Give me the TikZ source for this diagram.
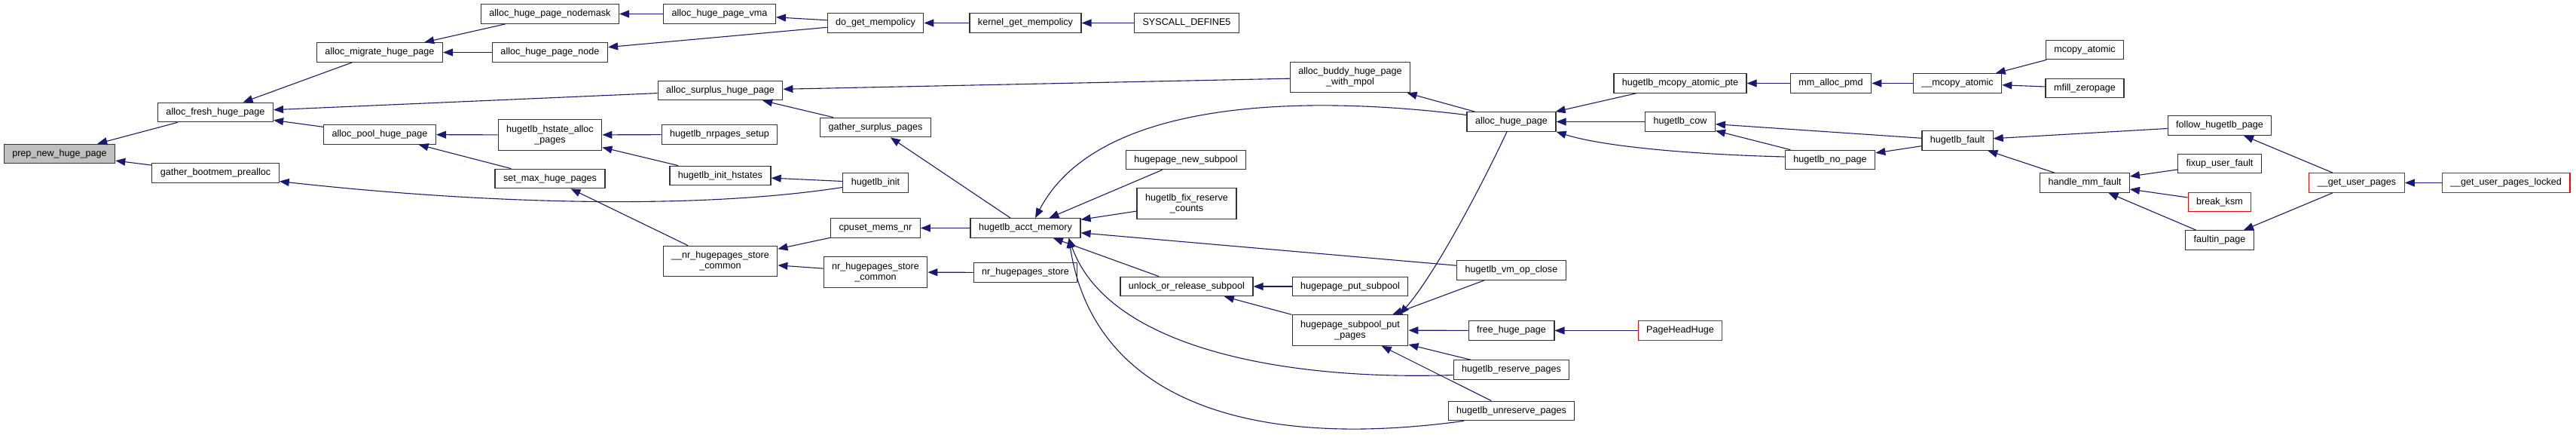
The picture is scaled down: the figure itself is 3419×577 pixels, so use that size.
\documentclass[tikz,border=0pt]{standalone}
\usepackage{fontspec}
\setmainfont{Liberation Sans}
\usepackage{xcolor}
\usetikzlibrary{arrows.meta}
\definecolor{calledge}{RGB}{25,25,112}
\definecolor{rootfill}{RGB}{191,191,191}

\begin{document}
\begin{tikzpicture}[x=1pt, y=-1pt,
  every node/.style={font=\fontsize{12.6}{14.3}\selectfont},
  fn/.style={draw=black!80, line width=1.2pt, fill=white, inner xsep=11pt, inner ysep=2pt, minimum height=25.5pt},
  fntwo/.style={fn, align=center, minimum height=40.5pt},
  fnroot/.style={fn, fill=rootfill},
  fnred/.style={fn, draw=red},
  call/.style={draw=calledge, line width=1.1pt, -{Triangle[length=13pt,width=10pt]}}]
  \useasboundingbox (0,0) rectangle (3419,577);
  % functions: name/x/y/style/label
  \foreach \nm/\x/\y/\sty/\txt in {
    prep/79/204/fnroot/prep\_new\_huge\_page,
    fresh/286/149/fn/alloc\_fresh\_huge\_page,
    gboot/286/229.5/fn/gather\_bootmem\_prealloc,
    migrate/504/69.5/fn/alloc\_migrate\_huge\_page,
    pool/504/178.5/fn/alloc\_pool\_huge\_page,
    nodemask/730/18.5/fn/alloc\_huge\_page\_nodemask,
    hpnode/730/69.5/fn/alloc\_huge\_page\_node,
    hstalloc/730/179/fntwo/hugetlb\_hstate\_alloc\\\_pages,
    setmax/730/237/fn/set\_max\_huge\_pages,
    vma/955/18.5/fn/alloc\_huge\_page\_vma,
    surplus/956/120/fn/alloc\_surplus\_huge\_page,
    nrsetup/955/178.5/fn/hugetlb\_nrpages\_setup,
    inithst/956/233/fn/hugetlb\_init\_hstates,
    nrsc/956/346.5/fntwo/\_\_nr\_hugepages\_store\\\_common,
    dogetmp/1162/30.5/fn/do\_get\_mempolicy,
    gsurplus/1162/169/fn/gather\_surplus\_pages,
    hinit/1162/242.5/fn/hugetlb\_init,
    cpuset/1162/302.5/fn/cpuset\_mems\_nr,
    nrstorec/1162/361/fntwo/nr\_hugepages\_store\\\_common,
    kgetmp/1361/30.5/fn/kernel\_get\_mempolicy,
    acct/1361/302.5/fn/hugetlb\_acct\_memory,
    nrstore/1361/361.5/fn/nr\_hugepages\_store,
    syscall/1575/30.5/fn/SYSCALL\_DEFINE5,
    newsub/1574/212/fn/hugepage\_new\_subpool,
    fixres/1575/270/fntwo/hugetlb\_fix\_reserve\\\_counts,
    unlock/1575/380/fn/unlock\_or\_release\_subpool,
    buddy/1792/102.5/fntwo/alloc\_buddy\_huge\_page\\\_with\_mpol,
    putsub/1792/380/fn/hugepage\_put\_subpool,
    spput/1792/438/fntwo/hugepage\_subpool\_put\\\_pages,
    ahp/2006/161.5/fn/alloc\_huge\_page,
    vmclose/2006/358.5/fn/hugetlb\_vm\_op\_close,
    freehp/2006/438.5/fn/free\_huge\_page,
    reserve/2006/490.5/fn/hugetlb\_reserve\_pages,
    unreserve/2006/545/fn/hugetlb\_unreserve\_pages,
    mcpte/2230/110.5/fn/hugetlb\_mcopy\_atomic\_pte,
    cow/2230/161.5/fn/hugetlb\_cow,
    phh/2230/438.5/fnred/PageHeadHuge,
    pmd/2430/110.5/fn/mm\_alloc\_pmd,
    nopage/2429/212/fn/hugetlb\_no\_page,
    mcatomic/2598/110.5/fn/\_\_mcopy\_atomic,
    fault/2598/186.5/fn/hugetlb\_fault,
    mcopy/2767/66/fn/mcopy\_atomic,
    mfill/2767/117/fn/mfill\_zeropage,
    handle/2767/242.5/fn/handle\_mm\_fault,
    follow/2946/166.5/fn/follow\_hugetlb\_page,
    fixup/2946/217/fn/fixup\_user\_fault,
    ksm/2946/268/fnred/break\_ksm,
    faultin/2946/318.5/fn/faultin\_page,
    gup/3128/242.5/fnred/\_\_get\_user\_pages,
    gupl/3326/242.5/fnred/\_\_get\_user\_pages\_locked} {
    \node[\sty] (\nm) at (\x,\y) {\txt};
  }
  % caller -> callee
  \foreach \a/\b in {fresh/prep, gboot/prep, migrate/fresh, surplus/fresh, pool/fresh,
    nodemask/migrate, hpnode/migrate, hstalloc/pool, setmax/pool, vma/nodemask,
    dogetmp/vma, dogetmp/hpnode, kgetmp/dogetmp, syscall/kgetmp, buddy/surplus,
    gsurplus/surplus, nrsetup/hstalloc, inithst/hstalloc, hinit/inithst, nrsc/setmax,
    cpuset/nrsc, nrstorec/nrsc, nrstore/nrstorec, acct/cpuset, acct/gsurplus,
    ahp/buddy, newsub/acct, fixres/acct, vmclose/acct, unlock/acct, putsub/unlock,
    spput/unlock, vmclose/spput, freehp/spput, reserve/spput, unreserve/spput,
    phh/freehp, mcpte/ahp, cow/ahp, pmd/mcpte, fault/cow, nopage/cow, mcatomic/pmd,
    fault/nopage, mcopy/mcatomic, mfill/mcatomic, follow/fault, handle/fault,
    fixup/handle, ksm/handle, faultin/handle, gup/follow, gup/faultin, gupl/gup} {
    \draw[call] (\a) -- (\b);
  }
  % bent calls
  \draw[call] ([yshift=-6pt]hinit.west) .. controls (900,282) and (600,266) .. ([yshift=-11pt]gboot.east);
  \draw[call] ([yshift=9pt]ahp.west) .. controls (1750,128) and (1460,125) .. ([xshift=13pt]acct.north);
  \draw[call] ([yshift=-7pt]reserve.west) .. controls (1700,505) and (1470,460) .. ([xshift=-16pt]acct.south east);
  \draw[call] ([xshift=-63pt]unreserve.south) .. controls (1640,600) and (1450,520) .. ([xshift=-16pt]acct.south east);
  \draw[call] ([xshift=-6pt]ahp.south) .. controls (1960,260) and (1900,370) .. ([xshift=-12pt]spput.north east);
  \draw[call] ([yshift=4pt]nopage.west) .. controls (2250,205) and (2130,195) .. (ahp.south east);
\end{tikzpicture}
\end{document}
